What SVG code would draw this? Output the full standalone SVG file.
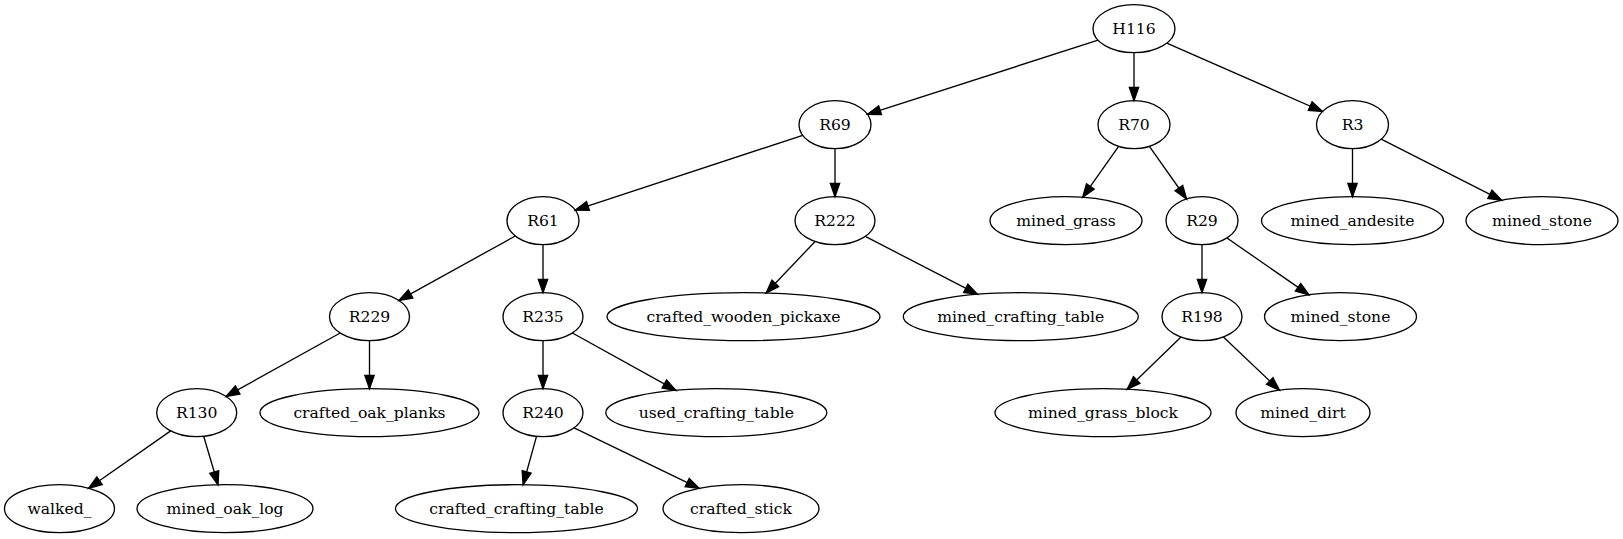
<svg xmlns="http://www.w3.org/2000/svg" width="1623" height="539" viewBox="0 0 1623 539">
<style>
.node ellipse { fill: none; stroke: #000; stroke-width: 1.333; }
.node text { font-family: 'DejaVu Serif', serif; font-size: 15.6px; text-anchor: middle; fill: #000; }
.edge path { fill: none; stroke: #000; stroke-width: 1.333; marker-end: url(#arrow); }
</style>
<defs>
<marker id="arrow" markerUnits="userSpaceOnUse" markerWidth="18" markerHeight="14" refX="13.33" refY="4.67" orient="auto" overflow="visible">
<path d="M0,0 L13.33,4.67 L0,9.33 Z" fill="#000" stroke="#000" stroke-width="1.333"/>
</marker>
</defs>
<rect x="0" y="0" width="1623" height="539" fill="#fff"/>
<g id="edges" class="edge">
<path d="M1098.1,40.2 L867.4,114.3"/>
<path d="M1134,52.7 L1134,100.7"/>
<path d="M1166.8,43.1 L1322.4,111.5"/>
<path d="M802.7,135.3 L575.3,210.1"/>
<path d="M835,148.7 L835,196.7"/>
<path d="M1118.6,146.4 L1082.6,197.3"/>
<path d="M1149.4,146.4 L1186.6,199.0"/>
<path d="M1352.5,148.7 L1352.5,196.7"/>
<path d="M1381.2,139.2 L1501.8,200.3"/>
<path d="M515.3,236.0 L398.9,300.4"/>
<path d="M543,244.7 L543,292.7"/>
<path d="M815.1,241.5 L766.1,293.0"/>
<path d="M865.3,236.4 L977.6,294.4"/>
<path d="M1202,244.7 L1202,292.7"/>
<path d="M1227.0,238.0 L1309.0,294.9"/>
<path d="M340.2,333.0 L226.0,396.4"/>
<path d="M369.5,340.7 L369.5,388.7"/>
<path d="M543,340.7 L543,388.7"/>
<path d="M572.4,333.0 L676.0,390.4"/>
<path d="M1181.0,337.1 L1127.1,389.3"/>
<path d="M1223.4,337.0 L1279.4,390.2"/>
<path d="M170.7,430.9 L88.6,488.3"/>
<path d="M203.7,436.3 L218.0,484.8"/>
<path d="M536.5,436.4 L523.1,484.7"/>
<path d="M574.1,427.8 L699.2,488.4"/>
</g>
<g id="H116" class="node"><ellipse cx="1134" cy="28.7" rx="41" ry="24"/><text x="1134" y="34.4">H116</text></g>
<g id="R69" class="node"><ellipse cx="835" cy="124.7" rx="36" ry="24"/><text x="835" y="130.4">R69</text></g>
<g id="R70" class="node"><ellipse cx="1134" cy="124.7" rx="36" ry="24"/><text x="1134" y="130.4">R70</text></g>
<g id="R3" class="node"><ellipse cx="1352.5" cy="124.7" rx="36" ry="24"/><text x="1352.5" y="130.4">R3</text></g>
<g id="R61" class="node"><ellipse cx="543" cy="220.7" rx="36" ry="24"/><text x="543" y="226.4">R61</text></g>
<g id="R222" class="node"><ellipse cx="835" cy="220.7" rx="40" ry="24"/><text x="835" y="226.4">R222</text></g>
<g id="mined_grass" class="node"><ellipse cx="1066" cy="220.7" rx="76" ry="24"/><text x="1066" y="226.4">mined_grass</text></g>
<g id="R29" class="node"><ellipse cx="1202" cy="220.7" rx="36" ry="24"/><text x="1202" y="226.4">R29</text></g>
<g id="mined_andesite" class="node"><ellipse cx="1352.5" cy="220.7" rx="91" ry="24"/><text x="1352.5" y="226.4">mined_andesite</text></g>
<g id="mined_stone_1" class="node"><ellipse cx="1542" cy="220.7" rx="76" ry="24"/><text x="1542" y="226.4">mined_stone</text></g>
<g id="R229" class="node"><ellipse cx="369.5" cy="316.7" rx="40" ry="24"/><text x="369.5" y="322.4">R229</text></g>
<g id="R235" class="node"><ellipse cx="543" cy="316.7" rx="40" ry="24"/><text x="543" y="322.4">R235</text></g>
<g id="crafted_wooden_pickaxe" class="node"><ellipse cx="743.5" cy="316.7" rx="136.5" ry="24"/><text x="743.5" y="322.4">crafted_wooden_pickaxe</text></g>
<g id="mined_crafting_table" class="node"><ellipse cx="1020.8" cy="316.7" rx="117.5" ry="24"/><text x="1020.8" y="322.4">mined_crafting_table</text></g>
<g id="R198" class="node"><ellipse cx="1202" cy="316.7" rx="40" ry="24"/><text x="1202" y="322.4">R198</text></g>
<g id="mined_stone_2" class="node"><ellipse cx="1340.5" cy="316.7" rx="76" ry="24"/><text x="1340.5" y="322.4">mined_stone</text></g>
<g id="R130" class="node"><ellipse cx="196.7" cy="412.7" rx="40" ry="24"/><text x="196.7" y="418.4">R130</text></g>
<g id="crafted_oak_planks" class="node"><ellipse cx="369.5" cy="412.7" rx="109.5" ry="24"/><text x="369.5" y="418.4">crafted_oak_planks</text></g>
<g id="R240" class="node"><ellipse cx="543" cy="412.7" rx="40" ry="24"/><text x="543" y="418.4">R240</text></g>
<g id="used_crafting_table" class="node"><ellipse cx="716.3" cy="412.7" rx="110.5" ry="24"/><text x="716.3" y="418.4">used_crafting_table</text></g>
<g id="mined_grass_block" class="node"><ellipse cx="1103" cy="412.7" rx="108" ry="24"/><text x="1103" y="418.4">mined_grass_block</text></g>
<g id="mined_dirt" class="node"><ellipse cx="1303" cy="412.7" rx="67" ry="24"/><text x="1303" y="418.4">mined_dirt</text></g>
<g id="walked_" class="node"><ellipse cx="59.5" cy="508.7" rx="55" ry="24"/><text x="59.5" y="514.4">walked_</text></g>
<g id="mined_oak_log" class="node"><ellipse cx="225" cy="508.7" rx="88" ry="24"/><text x="225" y="514.4">mined_oak_log</text></g>
<g id="crafted_crafting_table" class="node"><ellipse cx="516.5" cy="508.7" rx="121" ry="24"/><text x="516.5" y="514.4">crafted_crafting_table</text></g>
<g id="crafted_stick" class="node"><ellipse cx="741" cy="508.7" rx="78" ry="24"/><text x="741" y="514.4">crafted_stick</text></g>
</svg>
